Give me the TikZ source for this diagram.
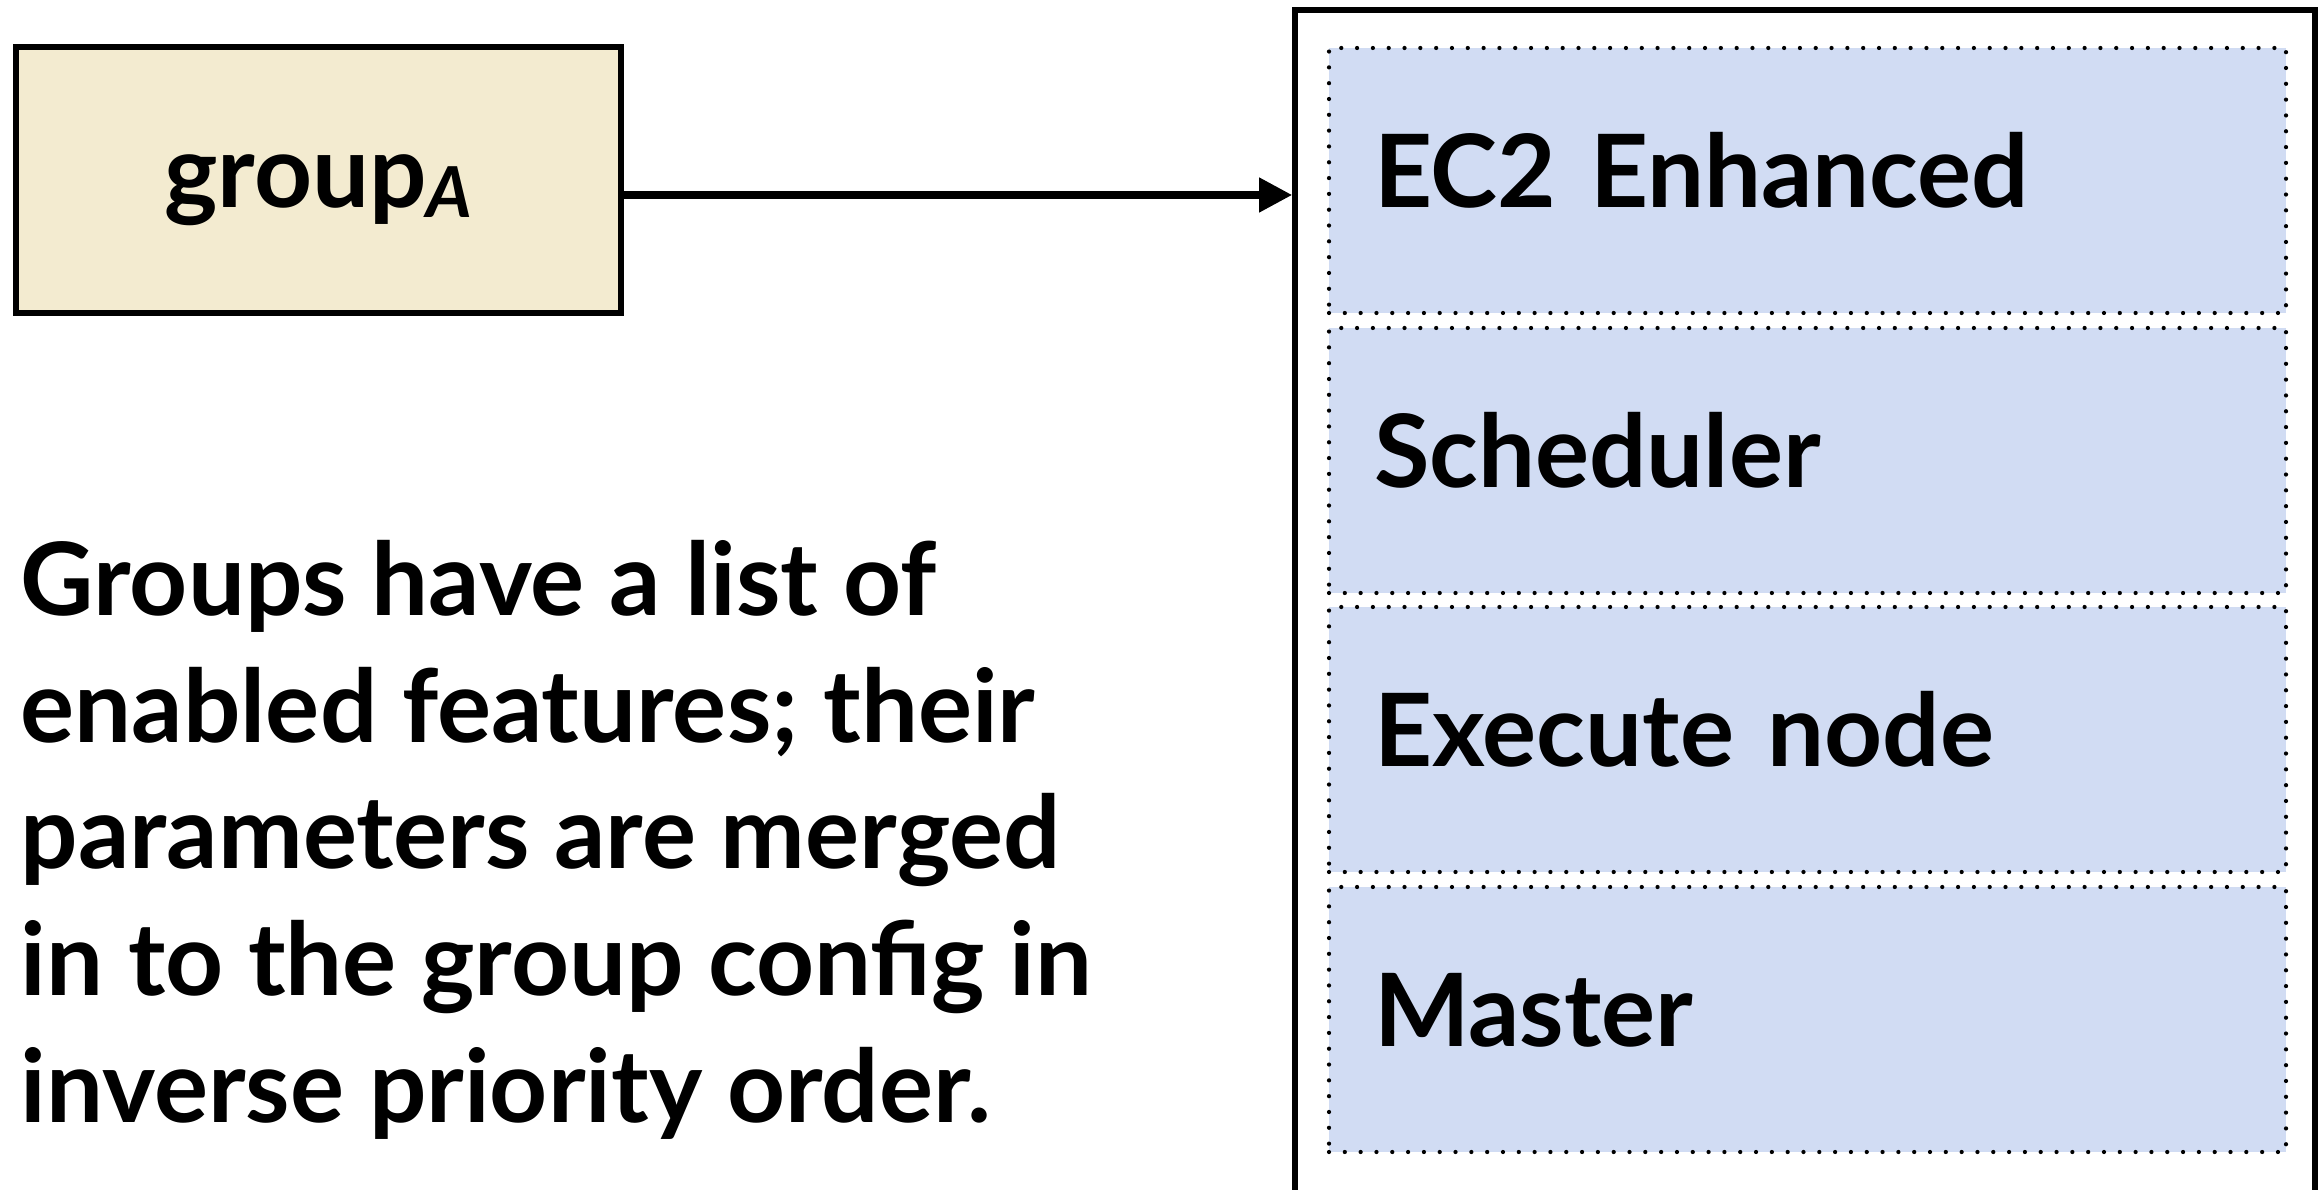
\documentclass[tikz,border=0pt]{standalone}
\usepackage{fontspec}
\setmainfont{Lato}
\usepackage{xcolor}
\usetikzlibrary{arrows.meta,positioning}
\definecolor{grpfill}{RGB}{243,235,208}
\definecolor{featfill}{RGB}{209,220,243}

\begin{document}
\begin{tikzpicture}[
   >={Triangle[length=3.3mm,width=3.3mm]}, font=\fontsize{28.8}{36}\selectfont\bfseries,
   box/.style={draw, line width=1.6pt, inner sep=0pt},
   grp/.style={box, fill=grpfill, minimum width=60.5mm, minimum height=26.6mm,
               text height=7.5mm, text depth=2mm},
   feat/.style={draw, line width=1.2pt, dash pattern=on 0pt off 4.5pt, line cap=round,
                fill=featfill, minimum width=95.7mm, minimum height=26.5mm,
                text width=86.7mm, align=left, inner xsep=4.5mm, inner ysep=0pt,
                text height=7.5mm, text depth=2mm}]
  \useasboundingbox (0,0) rectangle (23.18,11.89);
  \clip (0,0) rectangle (23.18,11.89);
  \node[grp] (group) at (3.185,10.09)
        {group\raisebox{-1mm}{\fontsize{20}{24}\selectfont\itshape A}};
  \node[box, minimum width=102mm, minimum height=130mm] (feats) at (18.05,5.29) {};
  \node[feat] (ec2)   at (18.075,10.085) {EC2 Enhanced};
  \node[feat] (sched) at (18.075,7.285)  {Scheduler};
  \node[feat] (exec)  at (18.075,4.495)  {Execute node};
  \node[feat] (mast)  at (18.075,1.695)  {Master};
  \node[align=left, anchor=base west, inner sep=0pt] (note) at (0.2,0.67)
        {Groups have a list of\\enabled features; their\\parameters are merged\\in to the group config in\\inverse priority order.};
  \coordinate (tail) at ([yshift=-1.5mm]group.east);
  \draw[->, line width=2.1pt] (tail) -- (tail -| feats.west);
\end{tikzpicture}
\end{document}
